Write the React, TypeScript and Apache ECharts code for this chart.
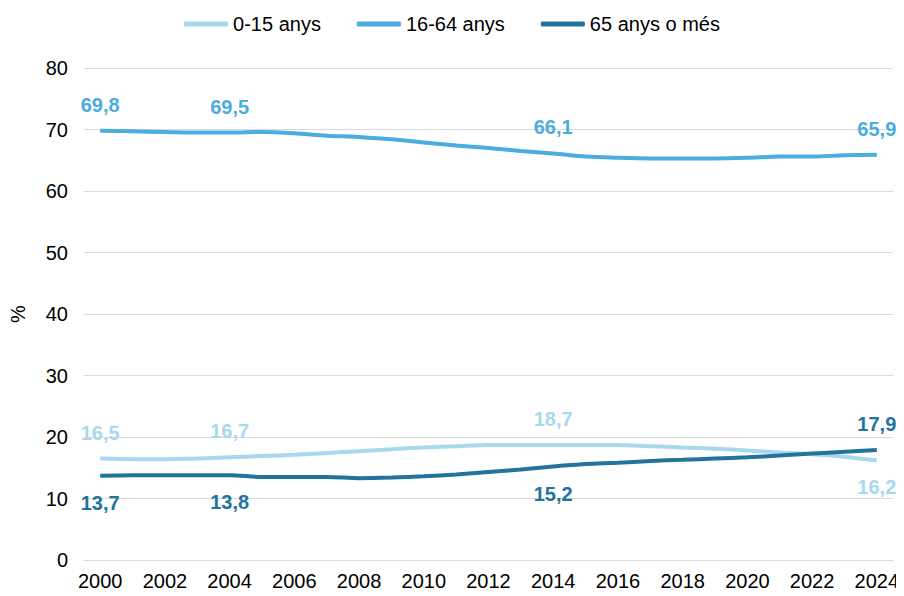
import React, { useEffect, useRef } from "react";
import * as echarts from "echarts";

const years = [
  "2000","2001","2002","2003","2004","2005","2006","2007","2008","2009","2010","2011","2012",
  "2013","2014","2015","2016","2017","2018","2019","2020","2021","2022","2023","2024",
];
const age0to15 = [16.5,16.4,16.4,16.5,16.7,16.9,17.1,17.4,17.7,18.0,18.3,18.5,18.7,18.7,18.7,18.7,18.7,18.5,18.3,18.1,17.8,17.5,17.2,16.8,16.2];
const age16to64 = [69.8,69.7,69.6,69.5,69.5,69.6,69.4,69.0,68.8,68.4,67.9,67.4,67.0,66.5,66.1,65.6,65.4,65.3,65.3,65.3,65.4,65.6,65.6,65.8,65.9];
const age65plus = [13.7,13.8,13.8,13.8,13.8,13.5,13.5,13.5,13.3,13.4,13.6,13.9,14.3,14.7,15.2,15.6,15.8,16.1,16.3,16.5,16.7,17.0,17.3,17.6,17.9];
const seriesNames = ["0-15 anys", "16-64 anys", "65 anys o més"];
const labelledIdx = [0, 4, 14, 24];
const yTicks = { min: 0, max: 80, interval: 10 };

const colors = ["#a8d8ee", "#4badde", "#23739c"];
const FONT = "'Liberation Sans', Arial, sans-serif";

function fmt(v: number) {
  return v.toFixed(1).replace(".", ",");
}

function buildData(values: number[], color: string, pos: (i: number) => "top" | "bottom") {
  return values.map((v, i) => {
    if (!labelledIdx.includes(i)) return { value: v, label: { show: false } };
    const p = pos(i);
    return {
      value: v,
      label: {
        show: true,
        position: p,
        distance: p === "top" ? 16 : 17,
        formatter: () => fmt(v),
        color,
        fontSize: 20,
        fontWeight: "bold",
        fontFamily: FONT,
      },
    };
  });
}

export default function App() {
  const ref = useRef<HTMLDivElement>(null);
  useEffect(() => {
    if (!ref.current) return;
    const chart = echarts.init(ref.current, undefined, { renderer: "svg" });
    const lineSeries = (name: string, data: any[], color: string) => ({
      name,
      type: "line",
      data,
      smooth: 0.3,
      symbol: "circle",
      symbolSize: 0,
      showSymbol: true,
      showAllSymbol: true,
      labelLayout: { hideOverlap: false },
      lineStyle: { color, width: 4 },
      itemStyle: { color },
      emphasis: { disabled: true },
    });
    chart.setOption({
      animation: false,
      textStyle: { fontFamily: FONT },
      legend: {
        top: 9,
        left: "center",
        itemWidth: 44,
        itemHeight: 5,
        itemGap: 36,
        icon: "roundRect",
        textStyle: { fontSize: 20, color: "#000", fontFamily: FONT },
        data: seriesNames,
      },
      grid: { left: 81, right: 11, top: 68, bottom: 36 },
      xAxis: {
        type: "category",
        data: years,
        boundaryGap: true,
        axisLine: { show: true, lineStyle: { color: "#d9d9d9", width: 1 } },
        axisTick: { show: false },
        axisLabel: { interval: 1, color: "#000", fontSize: 20, margin: 11, fontFamily: FONT },
      },
      yAxis: {
        type: "value",
        min: yTicks.min,
        max: yTicks.max,
        interval: yTicks.interval,
        name: "%",
        nameLocation: "middle",
        nameGap: 56,
        nameRotate: 90,
        nameTextStyle: { color: "#000", fontSize: 20, fontFamily: FONT },
        axisLine: { show: false },
        axisTick: { show: false },
        axisLabel: { color: "#000", fontSize: 20, margin: 16, fontFamily: FONT },
        splitLine: { lineStyle: { color: "#d9d9d9", width: 1 } },
      },
      series: [
        lineSeries(seriesNames[0], buildData(age0to15, colors[0], (i) => (i === 24 ? "bottom" : "top")), colors[0]),
        lineSeries(seriesNames[1], buildData(age16to64, colors[1], () => "top"), colors[1]),
        lineSeries(seriesNames[2], buildData(age65plus, colors[2], (i) => (i === 24 ? "top" : "bottom")), colors[2]),
      ],
    });
    return () => chart.dispose();
  }, []);
  return <div ref={ref} style={{ width: 904, height: 596, margin: -8 }} />;
}
